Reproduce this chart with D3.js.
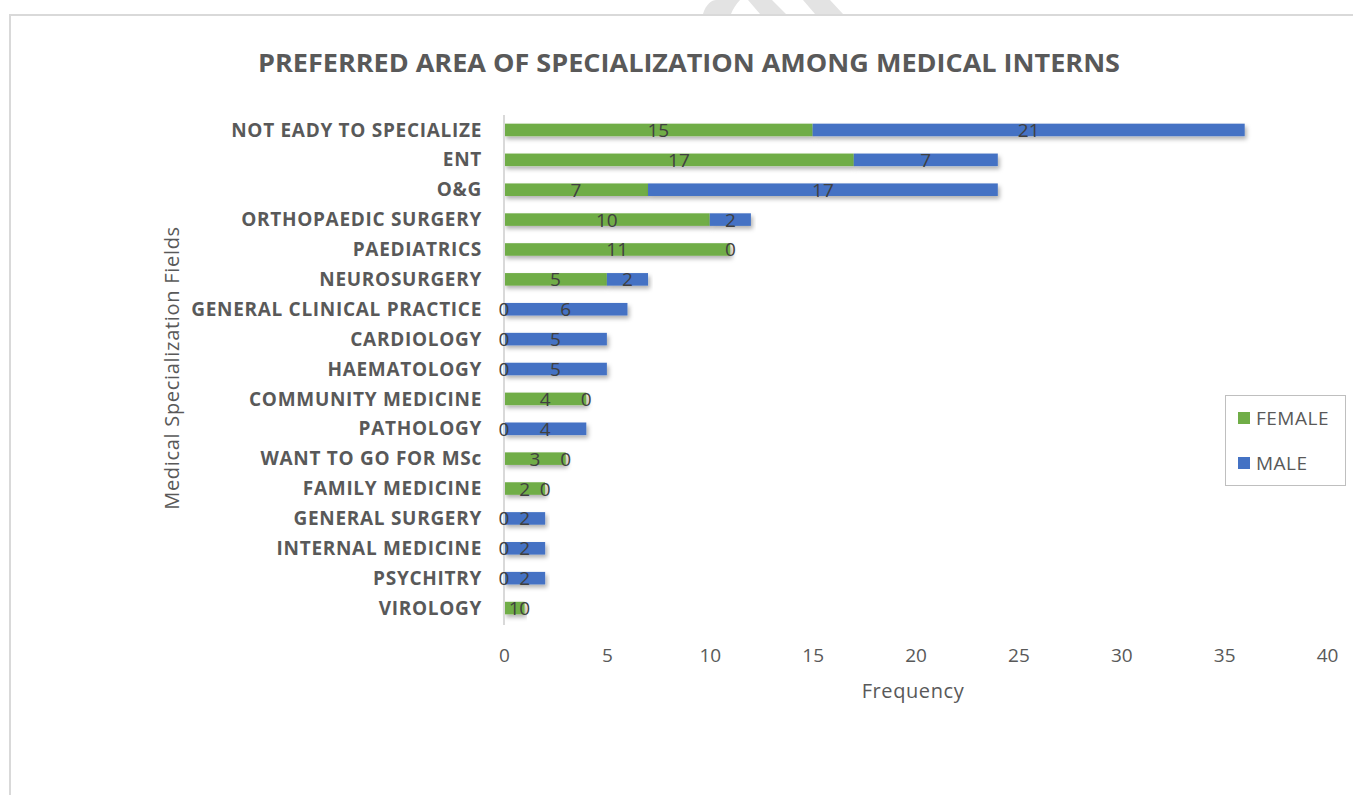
<!DOCTYPE html>
<html>
<head>
<meta charset="utf-8">
<script src="https://cdn.jsdelivr.net/npm/d3@7"></script>
<style>
  body { margin: 0; background: #fff; }
  svg { display: block; font-family: "Open Sans", "Noto Sans", sans-serif; }
</style>
</head>
<body>
<script>
const categories = [
    'NOT EADY TO SPECIALIZE', 'ENT', 'O&G', 'ORTHOPAEDIC SURGERY', 'PAEDIATRICS',
    'NEUROSURGERY', 'GENERAL CLINICAL PRACTICE', 'CARDIOLOGY', 'HAEMATOLOGY',
    'COMMUNITY MEDICINE', 'PATHOLOGY', 'WANT TO GO FOR MSc', 'FAMILY MEDICINE',
    'GENERAL SURGERY', 'INTERNAL MEDICINE', 'PSYCHITRY', 'VIROLOGY'
];
const female = [15, 17, 7, 10, 11, 5, 0, 0, 0, 4, 0, 3, 2, 0, 0, 0, 1];
const male   = [21, 7, 17, 2, 0, 2, 6, 5, 5, 0, 4, 0, 0, 2, 2, 2, 0];
const seriesNames = ['FEMALE', 'MALE'];
const seriesColors = ['#70AD47', '#4472C4'];
const xTicks = [0, 5, 10, 15, 20, 25, 30, 35, 40];

const W = 1353, H = 795;
const plot = { left: 504, right: 1327, top: 115, bottom: 623 };

const svg = d3.select('body').append('svg')
    .attr('width', W)
    .attr('height', H);

const defs = svg.append('defs');
const shadow = defs.append('filter').attr('id', 'shadow')
    .attr('x', '-5%').attr('y', '-50%').attr('width', '115%').attr('height', '250%');
shadow.append('feDropShadow')
    .attr('dx', 2).attr('dy', 3).attr('stdDeviation', 2)
    .attr('flood-color', '#000').attr('flood-opacity', 0.3);

// bit of the page watermark peeking above the frame
svg.append('path')
    .attr('d', 'M703,14 C706,4 712,0 716,0 L740,0 C736,4 733,9 731,14 Z M748,0 L772,0 L786,14 L760,14 Z M803,0 L830,0 L843,14 L815,14 Z')
    .attr('fill', '#e3e3e3');

// chart frame
svg.append('rect')
    .attr('x', 10).attr('y', 15)
    .attr('width', W + 10).attr('height', H + 10)
    .attr('fill', '#fff')
    .attr('stroke', '#d9d9d9')
    .attr('stroke-width', 2);

const x = d3.scaleLinear().domain([0, 40]).range([plot.left, plot.right]);
const y = d3.scaleBand().domain(categories)
    .range([plot.top, plot.bottom])
    .paddingInner(0.58).paddingOuter(0.29);

const rows = categories.map((c, i) => ({ cat: c, vals: [female[i], male[i]] }));
const stacked = d3.stack().keys([0, 1]).value((d, k) => d.vals[k])(rows);

svg.append('text')
    .attr('x', 689).attr('y', 72)
    .attr('text-anchor', 'middle')
    .attr('fill', '#595959')
    .attr('font-size', 25).attr('font-weight', 'bold')
    .attr('textLength', 862).attr('lengthAdjust', 'spacingAndGlyphs')
    .text('PREFERRED AREA OF SPECIALIZATION AMONG MEDICAL INTERNS');

// bars
const layers = svg.append('g').selectAll('g').data(stacked).enter().append('g')
    .attr('fill', (d, i) => seriesColors[i]);

layers.selectAll('rect').data(d => d).enter().append('rect')
    .attr('x', d => x(d[0]))
    .attr('y', d => y(d.data.cat))
    .attr('width', d => x(d[1]) - x(d[0]))
    .attr('height', y.bandwidth())
    .attr('filter', 'url(#shadow)');

// axis line at zero
svg.append('line')
    .attr('x1', x(0)).attr('x2', x(0))
    .attr('y1', plot.top).attr('y2', plot.bottom + 2)
    .attr('stroke', '#d9d9d9').attr('stroke-width', 2);

// data labels, centred in every segment (zero ones too)
const labels = svg.append('g').selectAll('g').data(stacked).enter().append('g');
labels.selectAll('text').data(d => d).enter().append('text')
    .attr('x', d => (x(d[0]) + x(d[1])) / 2)
    .attr('y', d => y(d.data.cat) + y.bandwidth() / 2 + 7)
    .attr('text-anchor', 'middle')
    .attr('fill', '#404040')
    .attr('font-size', 19)
    .text(d => d[1] - d[0]);

// category axis
const yAxis = svg.append('g')
    .attr('transform', `translate(${plot.left - 22},0)`)
    .call(d3.axisLeft(y).tickSize(0).tickPadding(0));
yAxis.select('.domain').remove();
yAxis.selectAll('text')
    .attr('fill', '#595959')
    .attr('font-size', 19)
    .attr('font-weight', 'bold')
    .attr('letter-spacing', 0.7)
    .attr('font-family', '"Open Sans", sans-serif')
    .attr('dy', '0.35em');

// value axis
const xAxis = svg.append('g')
    .attr('transform', `translate(0,${plot.bottom + 22})`)
    .call(d3.axisBottom(x).tickValues(xTicks).tickSize(0).tickPadding(0));
xAxis.select('.domain').remove();
xAxis.selectAll('text')
    .attr('fill', '#595959')
    .attr('font-size', 19)
    .attr('font-family', '"Open Sans", sans-serif')
    .attr('dy', '0.9em');

svg.append('text')
    .attr('x', 913).attr('y', 698)
    .attr('text-anchor', 'middle')
    .attr('fill', '#595959')
    .attr('font-size', 20)
    .attr('letter-spacing', 0.6)
    .text('Frequency');

svg.append('text')
    .attr('transform', 'translate(179,368) rotate(-90)')
    .attr('text-anchor', 'middle')
    .attr('fill', '#595959')
    .attr('font-size', 20)
    .attr('letter-spacing', 0.7)
    .text('Medical Specialization Fields');

// legend
const legend = svg.append('g');
legend.append('rect')
    .attr('x', 1225.5).attr('y', 395.5)
    .attr('width', 120).attr('height', 90)
    .attr('fill', '#fff').attr('stroke', '#bfbfbf');
const items = legend.selectAll('g.item').data(seriesNames).enter().append('g')
    .attr('transform', (d, i) => `translate(1238,${418 + i * 45})`);
items.append('rect')
    .attr('x', 0).attr('y', -6)
    .attr('width', 12).attr('height', 12)
    .attr('fill', (d, i) => seriesColors[i]);
items.append('text')
    .attr('x', 18).attr('y', 7)
    .attr('fill', '#595959')
    .attr('font-size', 19)
    .attr('letter-spacing', 0.5)
    .text(d => d);
</script>
</body>
</html>
